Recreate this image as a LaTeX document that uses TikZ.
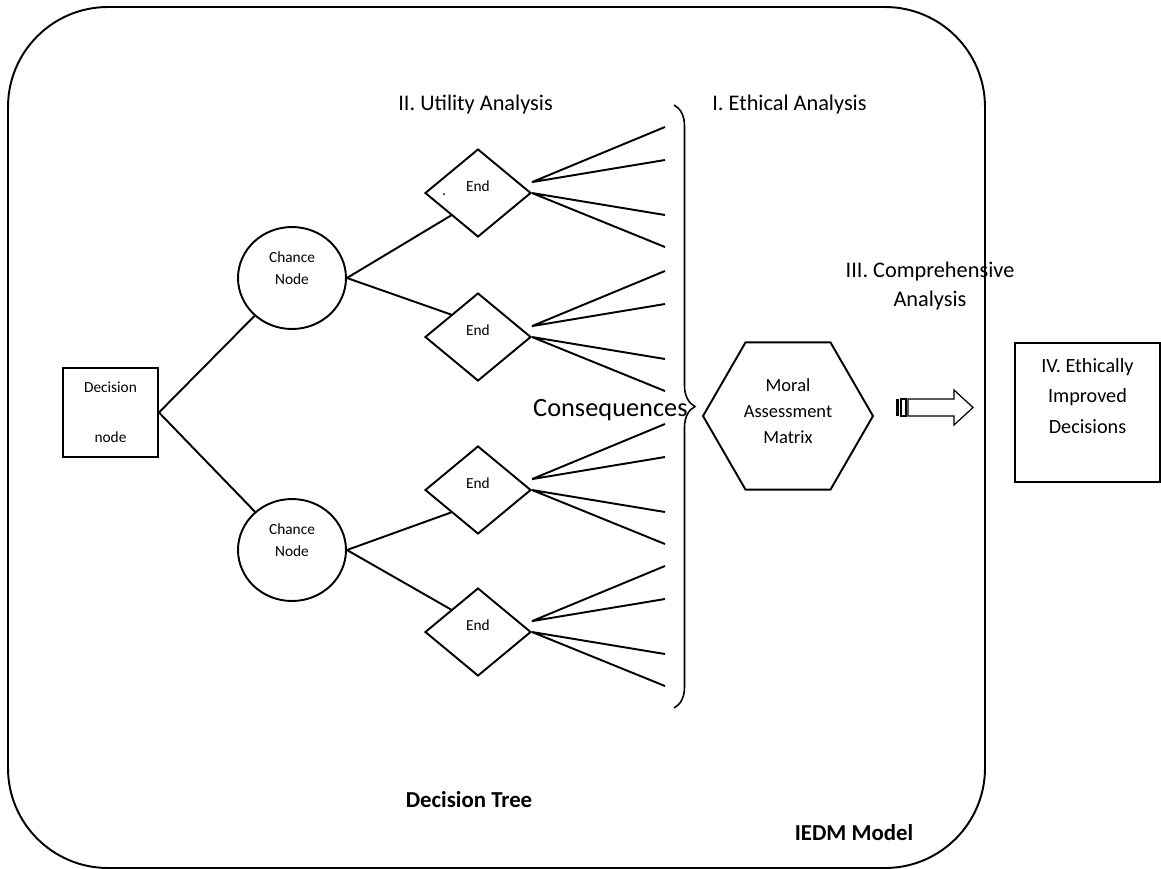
\documentclass[tikz,border=0pt]{standalone}
\usepackage{fontspec}
\setmainfont{Carlito}
\usetikzlibrary{shapes.geometric,decorations.pathreplacing}

\tikzset{
  conn/.style={line width=1.1pt},
  decbox/.style={draw,line width=1.1pt,minimum width=1.9cm,minimum height=1.78cm,inner sep=0},
  chancenode/.style={draw,ellipse,line width=1.1pt,minimum width=2.16cm,minimum height=2.04cm,inner sep=0},
  endnode/.style={draw,diamond,line width=1.1pt,minimum width=2.12cm,minimum height=1.76cm,inner sep=0},
  smalltext/.style={font=\fontsize{8.75}{12.5}\selectfont,align=center,inner sep=0},
  heading/.style={font=\fontsize{12.7}{17}\selectfont,align=center,inner sep=0},
  boldtext/.style={font=\fontsize{13}{15}\selectfont\bfseries,inner sep=0}
}

\begin{document}
\begin{tikzpicture}[x=0.02cm,y=-0.02cm]
  \useasboundingbox (0,0) rectangle (1161,869);
  % IEDM model frame
  \draw[line width=1.1pt,rounded corners=2cm] (8,7) rectangle (985,868);

  % decision tree
  \node[decbox] (dec) at (110.5,412.5) {};
  \node[smalltext] (dect) at (dec) {Decision\\[16pt]node};
  \node[chancenode] (ch1) at (292,278) {};
  \node[chancenode] (ch2) at (292,550) {};
  \node[smalltext] (ch1t) at ([yshift=5.7pt]ch1.center) {Chance\\Node};
  \node[smalltext] (ch2t) at ([yshift=5.7pt]ch2.center) {Chance\\Node};
  \node[endnode] (d1) at (478,193) {};
  \node[endnode] (d2) at (478,337) {};
  \node[endnode] (d3) at (478,490) {};
  \node[endnode] (d4) at (478,632) {};
  \foreach \d in {d1,d2,d3,d4}
    \node[smalltext] (\d t) at ([yshift=4pt]\d.center) {End};
  \node[smalltext,anchor=base] (dot) at (444,195) {.};

  \draw[conn] (dec.east) -- (ch1);
  \draw[conn] (dec.east) -- (ch2);
  \draw[conn] (ch1.east) -- (d1.south west);
  \draw[conn] (ch1.east) -- (d2.north west);
  \draw[conn] (ch2.east) -- (d3.south west);
  \draw[conn] (ch2.east) -- (d4.north west);

  % consequences fan
  \foreach \d in {d1,d2,d3,d4}{
    \coordinate (\d u) at ([yshift=6.2pt]\d.east);
    \foreach \dy [count=\k] in {-66,-33,22,54}
      \coordinate (\d c\k) at ([shift={(133,\dy)}]\d.east);
    \draw[conn] (\d u) -- (\d c1) (\d u) -- (\d c2)
      (\d.east) -- (\d c3) (\d.east) -- (\d c4);
  }
  \coordinate (bt) at (674,105);
  \coordinate (bb) at (674,708);
  \draw[line width=0.9pt,decorate,decoration={brace,amplitude=0.42cm}] (bt) -- (bb);
  \node[heading,font=\fontsize{15}{17}\selectfont,anchor=east] (cons) at (688,410) {Consequences};

  % moral assessment
  \node[draw,regular polygon,regular polygon sides=6,minimum size=3.4cm,inner sep=0,line width=1.1pt] (mam) at (788,416) {};
  \node[font=\fontsize{10.5}{14.7}\selectfont,align=center,inner sep=0] (mamt) at ([yshift=2.8pt]mam.center) {Moral\\Assessment\\Matrix};

  % striped arrow
  \fill (896,399) rectangle (899,416);
  \draw[line width=0.7pt] (901,399) rectangle (906,416);
  \draw[line width=0.7pt] (908,399) -- (954,399) -- (954,390) -- (973,407.5)
    -- (954,425) -- (954,416) -- (908,416) -- cycle;

  % outcome
  \node[draw,line width=1.1pt,minimum width=2.9cm,minimum height=2.78cm,inner sep=0] (ied) at (1087.5,412.5) {};
  \node[font=\fontsize{11.5}{17.6}\selectfont,align=center,inner sep=0] (iedt) at ([yshift=9.4pt]ied.center) {IV. Ethically\\Improved\\Decisions};

  % headings
  \node[heading,anchor=west] (ua) at (398,105) {II. Utility Analysis};
  \node[heading,anchor=west] (ea) at (712,105) {I. Ethical Analysis};
  \node[heading] (ca) at (930,286) {III. Comprehensive\\Analysis};
  \node[boldtext] (dtree) at (469,800) {Decision Tree};
  \node[boldtext] (iedm) at (854,833) {IEDM Model};
\end{tikzpicture}
\end{document}
